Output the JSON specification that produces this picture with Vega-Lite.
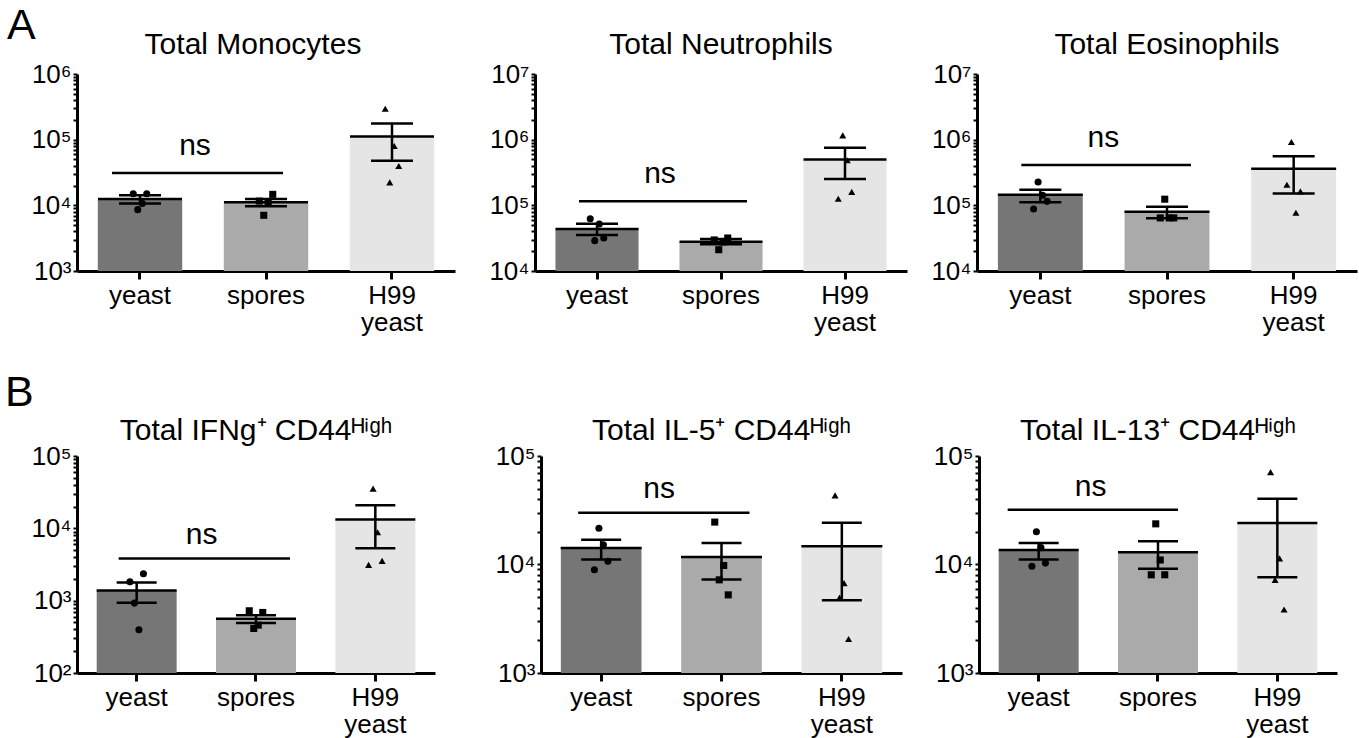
{
"$schema": "https://vega.github.io/schema/vega-lite/v6.json",
"background": "white",
"padding": {"left": 5, "top": 5, "right": 5, "bottom": 2},
"config": {
  "view": {"stroke": null},
  "font": "Liberation Sans",
  "title": {"font": "Liberation Sans", "fontSize": 30, "fontWeight": "normal", "color": "black"},
  "axis": {"domainColor": "black", "domainWidth": 3, "tickColor": "black", "tickWidth": 2, "labelColor": "black", "labelFont": "Liberation Sans", "grid": false},
  "axisX": {"tickSize": 8, "tickWidth": 3, "labelFontSize": 26, "labelPadding": 3, "labelAngle": 0, "labelLineHeight": 27},
  "axisY": {"tickSize": 4, "labelFontSize": 26, "labelPadding": 2}
},
"datasets": {
  "summary": [
    {"panel":"mono","group":"yeast","mean":12500,"lo":10700,"hi":14200},
    {"panel":"mono","group":"spores","mean":11100,"lo":9650,"hi":12500},
    {"panel":"mono","group":"H99 yeast","mean":112000,"lo":47900,"hi":177000},
    {"panel":"neut","group":"yeast","mean":43600,"lo":35300,"hi":52600},
    {"panel":"neut","group":"spores","mean":28000,"lo":25500,"hi":30700},
    {"panel":"neut","group":"H99 yeast","mean":501000,"lo":252000,"hi":755000},
    {"panel":"eos","group":"yeast","mean":145000,"lo":111000,"hi":173000},
    {"panel":"eos","group":"spores","mean":80000,"lo":63500,"hi":95500},
    {"panel":"eos","group":"H99 yeast","mean":361000,"lo":151000,"hi":558000},
    {"panel":"ifng","group":"yeast","mean":1380,"lo":935,"hi":1780},
    {"panel":"ifng","group":"spores","mean":562,"lo":490,"hi":631},
    {"panel":"ifng","group":"H99 yeast","mean":13200,"lo":5310,"hi":20800},
    {"panel":"il5","group":"yeast","mean":14200,"lo":11100,"hi":16900},
    {"panel":"il5","group":"spores","mean":11700,"lo":7280,"hi":15800},
    {"panel":"il5","group":"H99 yeast","mean":14700,"lo":4690,"hi":24300},
    {"panel":"il13","group":"yeast","mean":13600,"lo":11100,"hi":15800},
    {"panel":"il13","group":"spores","mean":13000,"lo":9120,"hi":16400},
    {"panel":"il13","group":"H99 yeast","mean":24100,"lo":7640,"hi":40400}
  ],
  "points": [
    {"panel":"mono","group":"yeast","rep":1,"value":15000},
    {"panel":"mono","group":"yeast","rep":2,"value":8600},
    {"panel":"mono","group":"yeast","rep":3,"value":10700},
    {"panel":"mono","group":"yeast","rep":4,"value":15000},
    {"panel":"mono","group":"spores","rep":1,"value":11600},
    {"panel":"mono","group":"spores","rep":2,"value":7050},
    {"panel":"mono","group":"spores","rep":3,"value":10900},
    {"panel":"mono","group":"spores","rep":4,"value":14700},
    {"panel":"mono","group":"H99 yeast","rep":1,"value":296000},
    {"panel":"mono","group":"H99 yeast","rep":2,"value":22400},
    {"panel":"mono","group":"H99 yeast","rep":3,"value":80200},
    {"panel":"mono","group":"H99 yeast","rep":4,"value":39700},
    {"panel":"neut","group":"yeast","rep":1,"value":62600},
    {"panel":"neut","group":"yeast","rep":2,"value":29000},
    {"panel":"neut","group":"yeast","rep":3,"value":52000},
    {"panel":"neut","group":"yeast","rep":4,"value":31800},
    {"panel":"neut","group":"spores","rep":1,"value":29700},
    {"panel":"neut","group":"spores","rep":2,"value":21100},
    {"panel":"neut","group":"spores","rep":3,"value":27700},
    {"panel":"neut","group":"spores","rep":4,"value":31800},
    {"panel":"neut","group":"H99 yeast","rep":1,"value":126000},
    {"panel":"neut","group":"H99 yeast","rep":2,"value":1160000},
    {"panel":"neut","group":"H99 yeast","rep":3,"value":485000},
    {"panel":"neut","group":"H99 yeast","rep":4,"value":160000},
    {"panel":"eos","group":"yeast","rep":1,"value":87900},
    {"panel":"eos","group":"yeast","rep":2,"value":226000},
    {"panel":"eos","group":"yeast","rep":3,"value":142000},
    {"panel":"eos","group":"yeast","rep":4,"value":115000},
    {"panel":"eos","group":"spores","rep":1,"value":64300},
    {"panel":"eos","group":"spores","rep":2,"value":124000},
    {"panel":"eos","group":"spores","rep":3,"value":64300},
    {"panel":"eos","group":"spores","rep":4,"value":64300},
    {"panel":"eos","group":"H99 yeast","rep":1,"value":206000},
    {"panel":"eos","group":"H99 yeast","rep":2,"value":922000},
    {"panel":"eos","group":"H99 yeast","rep":3,"value":77200},
    {"panel":"eos","group":"H99 yeast","rep":4,"value":163000},
    {"panel":"ifng","group":"yeast","rep":1,"value":1820},
    {"panel":"ifng","group":"yeast","rep":2,"value":925},
    {"panel":"ifng","group":"yeast","rep":3,"value":396},
    {"panel":"ifng","group":"yeast","rep":4,"value":2350},
    {"panel":"ifng","group":"spores","rep":1,"value":725},
    {"panel":"ifng","group":"spores","rep":2,"value":413},
    {"panel":"ifng","group":"spores","rep":3,"value":459},
    {"panel":"ifng","group":"spores","rep":4,"value":687},
    {"panel":"ifng","group":"H99 yeast","rep":1,"value":3130},
    {"panel":"ifng","group":"H99 yeast","rep":2,"value":35400},
    {"panel":"ifng","group":"H99 yeast","rep":3,"value":8830},
    {"panel":"ifng","group":"H99 yeast","rep":4,"value":3550},
    {"panel":"il5","group":"yeast","rep":1,"value":8930},
    {"panel":"il5","group":"yeast","rep":2,"value":21600},
    {"panel":"il5","group":"yeast","rep":3,"value":15200},
    {"panel":"il5","group":"yeast","rep":4,"value":10700},
    {"panel":"il5","group":"spores","rep":1,"value":24600},
    {"panel":"il5","group":"spores","rep":2,"value":7220},
    {"panel":"il5","group":"spores","rep":3,"value":9790},
    {"panel":"il5","group":"spores","rep":4,"value":5250},
    {"panel":"il5","group":"H99 yeast","rep":1,"value":43400},
    {"panel":"il5","group":"H99 yeast","rep":2,"value":4960},
    {"panel":"il5","group":"H99 yeast","rep":3,"value":6730},
    {"panel":"il5","group":"H99 yeast","rep":4,"value":2060},
    {"panel":"il13","group":"yeast","rep":1,"value":9650},
    {"panel":"il13","group":"yeast","rep":2,"value":20000},
    {"panel":"il13","group":"yeast","rep":3,"value":14300},
    {"panel":"il13","group":"yeast","rep":4,"value":10300},
    {"panel":"il13","group":"spores","rep":1,"value":8040},
    {"panel":"il13","group":"spores","rep":2,"value":23700},
    {"panel":"il13","group":"spores","rep":3,"value":11000},
    {"panel":"il13","group":"spores","rep":4,"value":8040},
    {"panel":"il13","group":"H99 yeast","rep":1,"value":71100},
    {"panel":"il13","group":"H99 yeast","rep":2,"value":7220},
    {"panel":"il13","group":"H99 yeast","rep":3,"value":11400},
    {"panel":"il13","group":"H99 yeast","rep":4,"value":3850}
  ],
  "ns": [
    {"panel":"mono","from":"yeast","to":"spores","y":31000,"label":"ns"},
    {"panel":"neut","from":"yeast","to":"spores","y":115000,"label":"ns"},
    {"panel":"eos","from":"yeast","to":"spores","y":411000,"label":"ns"},
    {"panel":"ifng","from":"yeast","to":"spores","y":3830,"label":"ns"},
    {"panel":"il5","from":"yeast","to":"spores","y":30000,"label":"ns"},
    {"panel":"il13","from":"yeast","to":"spores","y":32000,"label":"ns"}
  ]
},
"resolve": {"scale": {"x": "independent", "y": "independent", "color": "independent", "shape": "independent"}},
"spacing": 37,
"vconcat": [
{
  "title": {"text": "A", "anchor": "start", "fontSize": 43, "baseline": "alphabetic", "offset": -52, "dx": -24},
  "spacing": 20,
  "resolve": {"scale": {"x": "independent", "y": "independent", "color": "independent", "shape": "independent"}},
  "hconcat": [
  {
    "width": 378, "height": 197, "title": {"text": "Total Monocytes", "offset": 1, "dx": -13},
    "layer": [
      {"data": {"name": "summary"}, "transform": [{"filter": "datum.panel == 'mono'"}], "mark": {"type": "bar"},
       "encoding": {
        "x": {"field": "group", "type": "nominal", "title": null, "scale": {"domain": ["yeast", "spores", "H99 yeast"], "paddingInner": 0.33, "paddingOuter": 0.165}, "axis": {"labelExpr": "datum.value == 'H99 yeast' ? ['H99', 'yeast'] : datum.value"}},
        "y": {"field": "mean", "type": "quantitative", "title": null, "scale": {"type": "log", "domain": [1000, 1000000]}, "axis": {"minExtent": 46, "labelFontSize": 26, "values": [1000,2000,3000,4000,5000,6000,7000,8000,9000,10000,20000,30000,40000,50000,60000,70000,80000,90000,100000,200000,300000,400000,500000,600000,700000,800000,900000,1000000], "labelExpr": "indexof([100,1000,10000,100000,1000000,10000000], datum.value) >= 0 ? '10' + ['²','³','⁴','⁵','⁶','⁷'][indexof([100,1000,10000,100000,1000000,10000000], datum.value)] : ''"}},
        "y2": {"datum": 1000},
        "color": {"field": "group", "type": "nominal", "scale": {"domain": ["yeast", "spores", "H99 yeast"], "range": ["#767676", "#aaaaaa", "#e5e5e5"]}, "legend": null}
       }},
      {"data": {"name": "summary"}, "transform": [{"filter": "datum.panel == 'mono'"}], "mark": {"type": "tick", "color": "black", "size": 84, "thickness": 2.5, "opacity": 1},
       "encoding": {"x": {"field": "group", "type": "nominal", "title": null}, "y": {"field": "mean", "type": "quantitative", "title": null}}},
      {"data": {"name": "summary"}, "transform": [{"filter": "datum.panel == 'mono'"}], "mark": {"type": "rule", "color": "black", "strokeWidth": 2.5},
       "encoding": {"x": {"field": "group", "type": "nominal", "title": null}, "y": {"field": "lo", "type": "quantitative", "title": null}, "y2": {"field": "hi"}}},
      {"data": {"name": "summary"}, "transform": [{"filter": "datum.panel == 'mono'"}], "mark": {"type": "tick", "color": "black", "size": 42, "thickness": 2.5, "opacity": 1},
       "encoding": {"x": {"field": "group", "type": "nominal", "title": null}, "y": {"field": "lo", "type": "quantitative", "title": null}}},
      {"data": {"name": "summary"}, "transform": [{"filter": "datum.panel == 'mono'"}], "mark": {"type": "tick", "color": "black", "size": 42, "thickness": 2.5, "opacity": 1},
       "encoding": {"x": {"field": "group", "type": "nominal", "title": null}, "y": {"field": "hi", "type": "quantitative", "title": null}}},
      {"data": {"name": "points"}, "transform": [{"filter": "datum.panel == 'mono'"}], "mark": {"type": "point", "filled": true, "color": "black", "opacity": 1, "size": 50, "xOffset": {"expr": "(datum.rep - 2.5) * 4.5"}},
       "encoding": {"x": {"field": "group", "type": "nominal", "title": null}, "y": {"field": "value", "type": "quantitative", "title": null},
        "shape": {"field": "group", "type": "nominal", "scale": {"domain": ["yeast", "spores", "H99 yeast"], "range": ["circle", "square", "triangle-up"]}, "legend": null}}},
      {"data": {"name": "ns"}, "transform": [{"filter": "datum.panel == 'mono'"}], "mark": {"type": "rule", "color": "black", "strokeWidth": 2.5, "xOffset": -28, "x2Offset": 17},
       "encoding": {"x": {"field": "from", "type": "nominal", "title": null}, "x2": {"field": "to"}, "y": {"field": "y", "type": "quantitative", "title": null}}},
      {"data": {"name": "ns"}, "transform": [{"filter": "datum.panel == 'mono'"}], "mark": {"type": "text", "font": "Liberation Sans", "fontSize": 30, "color": "black", "align": "center", "baseline": "alphabetic", "dx": 55, "dy": -18},
       "encoding": {"x": {"field": "from", "type": "nominal", "title": null}, "y": {"field": "y", "type": "quantitative", "title": null}, "text": {"field": "label"}}}
    ]
  },
  {
    "width": 372, "height": 197, "title": {"text": "Total Neutrophils", "offset": 1},
    "layer": [
      {"data": {"name": "summary"}, "transform": [{"filter": "datum.panel == 'neut'"}], "mark": {"type": "bar"},
       "encoding": {
        "x": {"field": "group", "type": "nominal", "title": null, "scale": {"domain": ["yeast", "spores", "H99 yeast"], "paddingInner": 0.33, "paddingOuter": 0.165}, "axis": {"labelExpr": "datum.value == 'H99 yeast' ? ['H99', 'yeast'] : datum.value"}},
        "y": {"field": "mean", "type": "quantitative", "title": null, "scale": {"type": "log", "domain": [10000, 10000000]}, "axis": {"minExtent": 60, "labelFontSize": 26, "values": [10000,20000,30000,40000,50000,60000,70000,80000,90000,100000,200000,300000,400000,500000,600000,700000,800000,900000,1000000,2000000,3000000,4000000,5000000,6000000,7000000,8000000,9000000,10000000], "labelExpr": "indexof([100,1000,10000,100000,1000000,10000000], datum.value) >= 0 ? '10' + ['²','³','⁴','⁵','⁶','⁷'][indexof([100,1000,10000,100000,1000000,10000000], datum.value)] : ''"}},
        "y2": {"datum": 10000},
        "color": {"field": "group", "type": "nominal", "scale": {"domain": ["yeast", "spores", "H99 yeast"], "range": ["#767676", "#aaaaaa", "#e5e5e5"]}, "legend": null}
       }},
      {"data": {"name": "summary"}, "transform": [{"filter": "datum.panel == 'neut'"}], "mark": {"type": "tick", "color": "black", "size": 83, "thickness": 2.5, "opacity": 1},
       "encoding": {"x": {"field": "group", "type": "nominal", "title": null}, "y": {"field": "mean", "type": "quantitative", "title": null}}},
      {"data": {"name": "summary"}, "transform": [{"filter": "datum.panel == 'neut'"}], "mark": {"type": "rule", "color": "black", "strokeWidth": 2.5},
       "encoding": {"x": {"field": "group", "type": "nominal", "title": null}, "y": {"field": "lo", "type": "quantitative", "title": null}, "y2": {"field": "hi"}}},
      {"data": {"name": "summary"}, "transform": [{"filter": "datum.panel == 'neut'"}], "mark": {"type": "tick", "color": "black", "size": 42, "thickness": 2.5, "opacity": 1},
       "encoding": {"x": {"field": "group", "type": "nominal", "title": null}, "y": {"field": "lo", "type": "quantitative", "title": null}}},
      {"data": {"name": "summary"}, "transform": [{"filter": "datum.panel == 'neut'"}], "mark": {"type": "tick", "color": "black", "size": 42, "thickness": 2.5, "opacity": 1},
       "encoding": {"x": {"field": "group", "type": "nominal", "title": null}, "y": {"field": "hi", "type": "quantitative", "title": null}}},
      {"data": {"name": "points"}, "transform": [{"filter": "datum.panel == 'neut'"}], "mark": {"type": "point", "filled": true, "color": "black", "opacity": 1, "size": 50, "xOffset": {"expr": "(datum.rep - 2.5) * 4.5"}},
       "encoding": {"x": {"field": "group", "type": "nominal", "title": null}, "y": {"field": "value", "type": "quantitative", "title": null},
        "shape": {"field": "group", "type": "nominal", "scale": {"domain": ["yeast", "spores", "H99 yeast"], "range": ["circle", "square", "triangle-up"]}, "legend": null}}},
      {"data": {"name": "ns"}, "transform": [{"filter": "datum.panel == 'neut'"}], "mark": {"type": "rule", "color": "black", "strokeWidth": 2.5, "xOffset": -18, "x2Offset": 26},
       "encoding": {"x": {"field": "from", "type": "nominal", "title": null}, "x2": {"field": "to"}, "y": {"field": "y", "type": "quantitative", "title": null}}},
      {"data": {"name": "ns"}, "transform": [{"filter": "datum.panel == 'neut'"}], "mark": {"type": "text", "font": "Liberation Sans", "fontSize": 30, "color": "black", "align": "center", "baseline": "alphabetic", "dx": 63, "dy": -18},
       "encoding": {"x": {"field": "from", "type": "nominal", "title": null}, "y": {"field": "y", "type": "quantitative", "title": null}, "text": {"field": "label"}}}
    ]
  },
  {
    "width": 380, "height": 197, "title": {"text": "Total Eosinophils", "offset": 1},
    "layer": [
      {"data": {"name": "summary"}, "transform": [{"filter": "datum.panel == 'eos'"}], "mark": {"type": "bar"},
       "encoding": {
        "x": {"field": "group", "type": "nominal", "title": null, "scale": {"domain": ["yeast", "spores", "H99 yeast"], "paddingInner": 0.33, "paddingOuter": 0.165}, "axis": {"labelExpr": "datum.value == 'H99 yeast' ? ['H99', 'yeast'] : datum.value"}},
        "y": {"field": "mean", "type": "quantitative", "title": null, "scale": {"type": "log", "domain": [10000, 10000000]}, "axis": {"minExtent": 50, "labelFontSize": 26, "values": [10000,20000,30000,40000,50000,60000,70000,80000,90000,100000,200000,300000,400000,500000,600000,700000,800000,900000,1000000,2000000,3000000,4000000,5000000,6000000,7000000,8000000,9000000,10000000], "labelExpr": "indexof([100,1000,10000,100000,1000000,10000000], datum.value) >= 0 ? '10' + ['²','³','⁴','⁵','⁶','⁷'][indexof([100,1000,10000,100000,1000000,10000000], datum.value)] : ''"}},
        "y2": {"datum": 10000},
        "color": {"field": "group", "type": "nominal", "scale": {"domain": ["yeast", "spores", "H99 yeast"], "range": ["#767676", "#aaaaaa", "#e5e5e5"]}, "legend": null}
       }},
      {"data": {"name": "summary"}, "transform": [{"filter": "datum.panel == 'eos'"}], "mark": {"type": "tick", "color": "black", "size": 85, "thickness": 2.5, "opacity": 1},
       "encoding": {"x": {"field": "group", "type": "nominal", "title": null}, "y": {"field": "mean", "type": "quantitative", "title": null}}},
      {"data": {"name": "summary"}, "transform": [{"filter": "datum.panel == 'eos'"}], "mark": {"type": "rule", "color": "black", "strokeWidth": 2.5},
       "encoding": {"x": {"field": "group", "type": "nominal", "title": null}, "y": {"field": "lo", "type": "quantitative", "title": null}, "y2": {"field": "hi"}}},
      {"data": {"name": "summary"}, "transform": [{"filter": "datum.panel == 'eos'"}], "mark": {"type": "tick", "color": "black", "size": 42, "thickness": 2.5, "opacity": 1},
       "encoding": {"x": {"field": "group", "type": "nominal", "title": null}, "y": {"field": "lo", "type": "quantitative", "title": null}}},
      {"data": {"name": "summary"}, "transform": [{"filter": "datum.panel == 'eos'"}], "mark": {"type": "tick", "color": "black", "size": 42, "thickness": 2.5, "opacity": 1},
       "encoding": {"x": {"field": "group", "type": "nominal", "title": null}, "y": {"field": "hi", "type": "quantitative", "title": null}}},
      {"data": {"name": "points"}, "transform": [{"filter": "datum.panel == 'eos'"}], "mark": {"type": "point", "filled": true, "color": "black", "opacity": 1, "size": 50, "xOffset": {"expr": "(datum.rep - 2.5) * 4.5"}},
       "encoding": {"x": {"field": "group", "type": "nominal", "title": null}, "y": {"field": "value", "type": "quantitative", "title": null},
        "shape": {"field": "group", "type": "nominal", "scale": {"domain": ["yeast", "spores", "H99 yeast"], "range": ["circle", "square", "triangle-up"]}, "legend": null}}},
      {"data": {"name": "ns"}, "transform": [{"filter": "datum.panel == 'eos'"}], "mark": {"type": "rule", "color": "black", "strokeWidth": 2.5, "xOffset": -19, "x2Offset": 24},
       "encoding": {"x": {"field": "from", "type": "nominal", "title": null}, "x2": {"field": "to"}, "y": {"field": "y", "type": "quantitative", "title": null}}},
      {"data": {"name": "ns"}, "transform": [{"filter": "datum.panel == 'eos'"}], "mark": {"type": "text", "font": "Liberation Sans", "fontSize": 30, "color": "black", "align": "center", "baseline": "alphabetic", "dx": 63, "dy": -18},
       "encoding": {"x": {"field": "from", "type": "nominal", "title": null}, "y": {"field": "y", "type": "quantitative", "title": null}, "text": {"field": "label"}}}
    ]
  }
  ]
},
{
  "title": {"text": "B", "anchor": "start", "fontSize": 43, "baseline": "alphabetic", "offset": -33, "dx": -24},
  "spacing": 20,
  "resolve": {"scale": {"x": "independent", "y": "independent", "color": "independent", "shape": "independent"}},
  "hconcat": [
  {
    "width": 358, "height": 217, "title": {"text": "Total IFNg⁺ CD44ᴴⁱᵍʰ", "offset": -3},
    "layer": [
      {"data": {"name": "summary"}, "transform": [{"filter": "datum.panel == 'ifng'"}], "mark": {"type": "bar"},
       "encoding": {
        "x": {"field": "group", "type": "nominal", "title": null, "scale": {"domain": ["yeast", "spores", "H99 yeast"], "paddingInner": 0.33, "paddingOuter": 0.165}, "axis": {"labelExpr": "datum.value == 'H99 yeast' ? ['H99', 'yeast'] : datum.value"}},
        "y": {"field": "mean", "type": "quantitative", "title": null, "scale": {"type": "log", "domain": [100, 100000]}, "axis": {"minExtent": 48, "labelFontSize": 26, "values": [100,200,300,400,500,600,700,800,900,1000,2000,3000,4000,5000,6000,7000,8000,9000,10000,20000,30000,40000,50000,60000,70000,80000,90000,100000], "labelExpr": "indexof([100,1000,10000,100000,1000000,10000000], datum.value) >= 0 ? '10' + ['²','³','⁴','⁵','⁶','⁷'][indexof([100,1000,10000,100000,1000000,10000000], datum.value)] : ''"}},
        "y2": {"datum": 100},
        "color": {"field": "group", "type": "nominal", "scale": {"domain": ["yeast", "spores", "H99 yeast"], "range": ["#767676", "#aaaaaa", "#e5e5e5"]}, "legend": null}
       }},
      {"data": {"name": "summary"}, "transform": [{"filter": "datum.panel == 'ifng'"}], "mark": {"type": "tick", "color": "black", "size": 80, "thickness": 2.5, "opacity": 1},
       "encoding": {"x": {"field": "group", "type": "nominal", "title": null}, "y": {"field": "mean", "type": "quantitative", "title": null}}},
      {"data": {"name": "summary"}, "transform": [{"filter": "datum.panel == 'ifng'"}], "mark": {"type": "rule", "color": "black", "strokeWidth": 2.5},
       "encoding": {"x": {"field": "group", "type": "nominal", "title": null}, "y": {"field": "lo", "type": "quantitative", "title": null}, "y2": {"field": "hi"}}},
      {"data": {"name": "summary"}, "transform": [{"filter": "datum.panel == 'ifng'"}], "mark": {"type": "tick", "color": "black", "size": 40, "thickness": 2.5, "opacity": 1},
       "encoding": {"x": {"field": "group", "type": "nominal", "title": null}, "y": {"field": "lo", "type": "quantitative", "title": null}}},
      {"data": {"name": "summary"}, "transform": [{"filter": "datum.panel == 'ifng'"}], "mark": {"type": "tick", "color": "black", "size": 40, "thickness": 2.5, "opacity": 1},
       "encoding": {"x": {"field": "group", "type": "nominal", "title": null}, "y": {"field": "hi", "type": "quantitative", "title": null}}},
      {"data": {"name": "points"}, "transform": [{"filter": "datum.panel == 'ifng'"}], "mark": {"type": "point", "filled": true, "color": "black", "opacity": 1, "size": 50, "xOffset": {"expr": "(datum.rep - 2.5) * 4.5"}},
       "encoding": {"x": {"field": "group", "type": "nominal", "title": null}, "y": {"field": "value", "type": "quantitative", "title": null},
        "shape": {"field": "group", "type": "nominal", "scale": {"domain": ["yeast", "spores", "H99 yeast"], "range": ["circle", "square", "triangle-up"]}, "legend": null}}},
      {"data": {"name": "ns"}, "transform": [{"filter": "datum.panel == 'ifng'"}], "mark": {"type": "rule", "color": "black", "strokeWidth": 2.5, "xOffset": -18, "x2Offset": 34},
       "encoding": {"x": {"field": "from", "type": "nominal", "title": null}, "x2": {"field": "to"}, "y": {"field": "y", "type": "quantitative", "title": null}}},
      {"data": {"name": "ns"}, "transform": [{"filter": "datum.panel == 'ifng'"}], "mark": {"type": "text", "font": "Liberation Sans", "fontSize": 30, "color": "black", "align": "center", "baseline": "alphabetic", "dx": 65, "dy": -14},
       "encoding": {"x": {"field": "from", "type": "nominal", "title": null}, "y": {"field": "y", "type": "quantitative", "title": null}, "text": {"field": "label"}}}
    ]
  },
  {
    "width": 361, "height": 217, "title": {"text": "Total IL-5⁺ CD44ᴴⁱᵍʰ", "offset": -3},
    "layer": [
      {"data": {"name": "summary"}, "transform": [{"filter": "datum.panel == 'il5'"}], "mark": {"type": "bar"},
       "encoding": {
        "x": {"field": "group", "type": "nominal", "title": null, "scale": {"domain": ["yeast", "spores", "H99 yeast"], "paddingInner": 0.33, "paddingOuter": 0.165}, "axis": {"labelExpr": "datum.value == 'H99 yeast' ? ['H99', 'yeast'] : datum.value"}},
        "y": {"field": "mean", "type": "quantitative", "title": null, "scale": {"type": "log", "domain": [1000, 100000]}, "axis": {"minExtent": 86, "labelFontSize": 26, "values": [1000,2000,3000,4000,5000,6000,7000,8000,9000,10000,20000,30000,40000,50000,60000,70000,80000,90000,100000], "labelExpr": "indexof([100,1000,10000,100000,1000000,10000000], datum.value) >= 0 ? '10' + ['²','³','⁴','⁵','⁶','⁷'][indexof([100,1000,10000,100000,1000000,10000000], datum.value)] : ''"}},
        "y2": {"datum": 1000},
        "color": {"field": "group", "type": "nominal", "scale": {"domain": ["yeast", "spores", "H99 yeast"], "range": ["#767676", "#aaaaaa", "#e5e5e5"]}, "legend": null}
       }},
      {"data": {"name": "summary"}, "transform": [{"filter": "datum.panel == 'il5'"}], "mark": {"type": "tick", "color": "black", "size": 81, "thickness": 2.5, "opacity": 1},
       "encoding": {"x": {"field": "group", "type": "nominal", "title": null}, "y": {"field": "mean", "type": "quantitative", "title": null}}},
      {"data": {"name": "summary"}, "transform": [{"filter": "datum.panel == 'il5'"}], "mark": {"type": "rule", "color": "black", "strokeWidth": 2.5},
       "encoding": {"x": {"field": "group", "type": "nominal", "title": null}, "y": {"field": "lo", "type": "quantitative", "title": null}, "y2": {"field": "hi"}}},
      {"data": {"name": "summary"}, "transform": [{"filter": "datum.panel == 'il5'"}], "mark": {"type": "tick", "color": "black", "size": 40, "thickness": 2.5, "opacity": 1},
       "encoding": {"x": {"field": "group", "type": "nominal", "title": null}, "y": {"field": "lo", "type": "quantitative", "title": null}}},
      {"data": {"name": "summary"}, "transform": [{"filter": "datum.panel == 'il5'"}], "mark": {"type": "tick", "color": "black", "size": 40, "thickness": 2.5, "opacity": 1},
       "encoding": {"x": {"field": "group", "type": "nominal", "title": null}, "y": {"field": "hi", "type": "quantitative", "title": null}}},
      {"data": {"name": "points"}, "transform": [{"filter": "datum.panel == 'il5'"}], "mark": {"type": "point", "filled": true, "color": "black", "opacity": 1, "size": 50, "xOffset": {"expr": "(datum.rep - 2.5) * 4.5"}},
       "encoding": {"x": {"field": "group", "type": "nominal", "title": null}, "y": {"field": "value", "type": "quantitative", "title": null},
        "shape": {"field": "group", "type": "nominal", "scale": {"domain": ["yeast", "spores", "H99 yeast"], "range": ["circle", "square", "triangle-up"]}, "legend": null}}},
      {"data": {"name": "ns"}, "transform": [{"filter": "datum.panel == 'il5'"}], "mark": {"type": "rule", "color": "black", "strokeWidth": 2.5, "xOffset": -23, "x2Offset": 28},
       "encoding": {"x": {"field": "from", "type": "nominal", "title": null}, "x2": {"field": "to"}, "y": {"field": "y", "type": "quantitative", "title": null}}},
      {"data": {"name": "ns"}, "transform": [{"filter": "datum.panel == 'il5'"}], "mark": {"type": "text", "font": "Liberation Sans", "fontSize": 30, "color": "black", "align": "center", "baseline": "alphabetic", "dx": 58, "dy": -15},
       "encoding": {"x": {"field": "from", "type": "nominal", "title": null}, "y": {"field": "y", "type": "quantitative", "title": null}, "text": {"field": "label"}}}
    ]
  },
  {
    "width": 358, "height": 217, "title": {"text": "Total IL-13⁺ CD44ᴴⁱᵍʰ", "offset": -3},
    "layer": [
      {"data": {"name": "summary"}, "transform": [{"filter": "datum.panel == 'il13'"}], "mark": {"type": "bar"},
       "encoding": {
        "x": {"field": "group", "type": "nominal", "title": null, "scale": {"domain": ["yeast", "spores", "H99 yeast"], "paddingInner": 0.33, "paddingOuter": 0.165}, "axis": {"labelExpr": "datum.value == 'H99 yeast' ? ['H99', 'yeast'] : datum.value"}},
        "y": {"field": "mean", "type": "quantitative", "title": null, "scale": {"type": "log", "domain": [1000, 100000]}, "axis": {"minExtent": 57, "labelFontSize": 26, "values": [1000,2000,3000,4000,5000,6000,7000,8000,9000,10000,20000,30000,40000,50000,60000,70000,80000,90000,100000], "labelExpr": "indexof([100,1000,10000,100000,1000000,10000000], datum.value) >= 0 ? '10' + ['²','³','⁴','⁵','⁶','⁷'][indexof([100,1000,10000,100000,1000000,10000000], datum.value)] : ''"}},
        "y2": {"datum": 1000},
        "color": {"field": "group", "type": "nominal", "scale": {"domain": ["yeast", "spores", "H99 yeast"], "range": ["#767676", "#aaaaaa", "#e5e5e5"]}, "legend": null}
       }},
      {"data": {"name": "summary"}, "transform": [{"filter": "datum.panel == 'il13'"}], "mark": {"type": "tick", "color": "black", "size": 80, "thickness": 2.5, "opacity": 1},
       "encoding": {"x": {"field": "group", "type": "nominal", "title": null}, "y": {"field": "mean", "type": "quantitative", "title": null}}},
      {"data": {"name": "summary"}, "transform": [{"filter": "datum.panel == 'il13'"}], "mark": {"type": "rule", "color": "black", "strokeWidth": 2.5},
       "encoding": {"x": {"field": "group", "type": "nominal", "title": null}, "y": {"field": "lo", "type": "quantitative", "title": null}, "y2": {"field": "hi"}}},
      {"data": {"name": "summary"}, "transform": [{"filter": "datum.panel == 'il13'"}], "mark": {"type": "tick", "color": "black", "size": 40, "thickness": 2.5, "opacity": 1},
       "encoding": {"x": {"field": "group", "type": "nominal", "title": null}, "y": {"field": "lo", "type": "quantitative", "title": null}}},
      {"data": {"name": "summary"}, "transform": [{"filter": "datum.panel == 'il13'"}], "mark": {"type": "tick", "color": "black", "size": 40, "thickness": 2.5, "opacity": 1},
       "encoding": {"x": {"field": "group", "type": "nominal", "title": null}, "y": {"field": "hi", "type": "quantitative", "title": null}}},
      {"data": {"name": "points"}, "transform": [{"filter": "datum.panel == 'il13'"}], "mark": {"type": "point", "filled": true, "color": "black", "opacity": 1, "size": 50, "xOffset": {"expr": "(datum.rep - 2.5) * 4.5"}},
       "encoding": {"x": {"field": "group", "type": "nominal", "title": null}, "y": {"field": "value", "type": "quantitative", "title": null},
        "shape": {"field": "group", "type": "nominal", "scale": {"domain": ["yeast", "spores", "H99 yeast"], "range": ["circle", "square", "triangle-up"]}, "legend": null}}},
      {"data": {"name": "ns"}, "transform": [{"filter": "datum.panel == 'il13'"}], "mark": {"type": "rule", "color": "black", "strokeWidth": 2.5, "xOffset": -31, "x2Offset": 20},
       "encoding": {"x": {"field": "from", "type": "nominal", "title": null}, "x2": {"field": "to"}, "y": {"field": "y", "type": "quantitative", "title": null}}},
      {"data": {"name": "ns"}, "transform": [{"filter": "datum.panel == 'il13'"}], "mark": {"type": "text", "font": "Liberation Sans", "fontSize": 30, "color": "black", "align": "center", "baseline": "alphabetic", "dx": 52, "dy": -14},
       "encoding": {"x": {"field": "from", "type": "nominal", "title": null}, "y": {"field": "y", "type": "quantitative", "title": null}, "text": {"field": "label"}}}
    ]
  }
  ]
}
]
}
